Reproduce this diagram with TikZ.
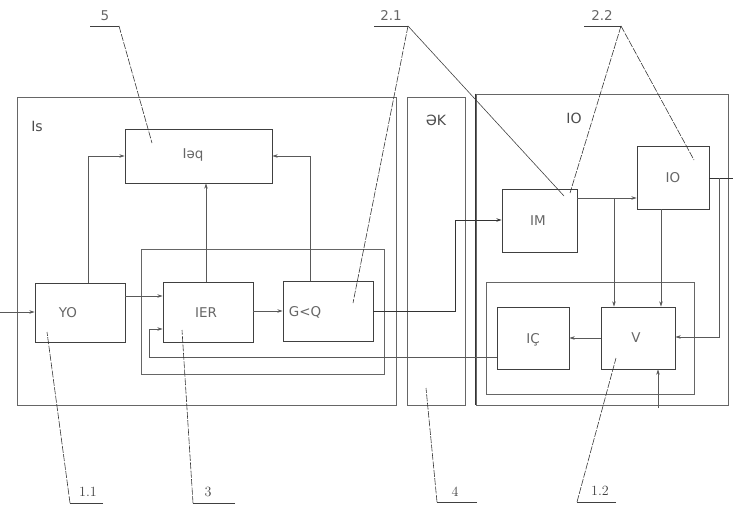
\documentclass[tikz,border=0pt]{standalone}
\usepackage{fontspec}
\setsansfont{DejaVu Sans}
\usetikzlibrary{arrows.meta,fit}

\tikzset{
  wire/.style={draw=black!65, line width=0.6pt},
  arr/.style={wire, -{Stealth[length=4.5pt,width=3pt]}},
  frame/.style={draw=black!60, line width=0.6pt, inner sep=0pt, fit={#1}},
  blk/.style={draw=black!75, line width=0.75pt, inner sep=0pt, fit={#1}},
  txt/.style={text=black!60, font=\sffamily\fontsize{11.5}{13}\selectfont, inner sep=0pt},
  ttl/.style={text=black!70, font=\sffamily\fontsize{12}{14}\selectfont, inner sep=0pt},
  num/.style={text=black!75, font=\fontsize{12}{14}\selectfont, inner sep=0pt},
  leader/.style={draw=black!80, line width=0.5pt, dash pattern=on 6pt off 1.2pt},
  leaderthin/.style={draw=black!75, line width=0.5pt}
}

\begin{document}
\begin{tikzpicture}[x=0.03cm, y=-0.03cm]
  \useasboundingbox (0,0) rectangle (733,506);

  % Frames
  \node[frame={(17,97) (396,405)}] (fIs) {};
  \node[frame={(407,97) (465,405)}] (fEK) {};
  \node[frame={(476,94) (728,405)}] (fIO) {};
  \draw[line width=0.9pt, draw=black!80] (fIO.north west) -- (fIO.south west);
  \node[frame={(141,249) (384,374)}] (g3) {};
  \node[frame={(486,282) (694,394)}] (g12) {};

  % Blocks
  \node[blk={(125,129) (272,183)}] (iaq) {};
  \node[blk={(35,283) (125,342)}] (yo) {};
  \node[blk={(163,282) (253,342)}] (ier) {};
  \node[blk={(283,281) (373,341)}] (gkq) {};
  \node[blk={(502,189) (577,252)}] (im) {};
  \node[blk={(637,146) (709,209)}] (io) {};
  \node[blk={(497,307) (569,369)}] (ic) {};
  \node[blk={(601,307) (675,369)}] (v) {};

  % Texts
  \node[ttl] (tIs) at (37,126) {Is};
  \node[ttl] (tEK) at (436,120) {ӘK};
  \node[ttl] (tIO) at (574,118) {IO};
  \node[txt] (tiaq) at (193,155) {Iәq};
  \node[txt] (tyo) at (68,313) {YO};
  \node[txt] (tier) at (206,313) {IER};
  \node[txt] (tgkq) at (305,312) {G<Q};
  \node[txt] (tim) at (538,221) {IM};
  \node[txt] (tio) at (673,178) {IO};
  \node[txt] (tic) at (533,340) {IÇ};
  \node[txt] (tv) at (636,338) {V};

  % Connectors
  \coordinate (in) at (0,312);
  \coordinate (out) at (733,178);
  \draw[arr] (in) -- (yo.west |- in);
  \draw[arr] (yo.east |- 0,296) -- (ier.west |- 0,296);
  \draw[arr] (yo.north -| 88,0) |- (iaq.west |- 0,156);
  \draw[arr] (ier.north -| 206,0) -- (iaq.south -| 206,0);
  \draw[arr] (gkq.north -| 310,0) |- (iaq.east |- 0,156);
  \draw[arr] (ier.east |- 0,311) -- (gkq.west |- 0,311);
  \draw[arr, line width=0.8pt, draw=black!80] (gkq.east |- 0,311) -| (455,220) -- (im.west |- 0,220);
  \draw[arr] (im.east |- 0,198) -- (io.west |- 0,198);
  \draw[arr] (614,198) -- (v.north -| 614,0);
  \draw[arr] (io.south -| 661,0) -- (v.north -| 661,0);
  \draw[wire, line width=0.8pt, draw=black!80] (io.east |- out) -- (out);
  \draw[arr] (719,178) |- (v.east |- 0,337);
  \draw[arr] (v.west |- 0,338) -- (ic.east |- 0,338);
  \draw[arr] (ic.west |- 0,357) -| (149,329) -- (ier.west |- 0,329);
  \draw[arr] (658,408) -- (v.south -| 658,0);

  % Leaders
  \draw[leaderthin] (90,26) -- (119,26);
  \draw[leader] (119,26) -- (152,143);
  \draw[leaderthin] (374,26) -- (408,26);
  \draw[leader] (408,26) -- (353,303);
  \draw[leaderthin] (408,26) -- (564,196);
  \draw[leaderthin] (584,26) -- (621,26);
  \draw[leader] (621,26) -- (570,193);
  \draw[leader] (621,26) -- (694,160);
  \draw[leaderthin] (103,503) -- (70,503);
  \draw[leader] (70,503) -- (47,332);
  \draw[leaderthin] (235,503) -- (193,503);
  \draw[leader] (193,503) -- (182,330);
  \draw[leaderthin] (477,502) -- (437,502);
  \draw[leader] (437,502) -- (426,388);
  \draw[leaderthin] (616,502) -- (577,502);
  \draw[leader] (577,502) -- (616,358);

  % Labels
  \node[txt] (n5) at (105,16) {5};
  \node[txt] (n21) at (391,16) {2.1};
  \node[txt] (n22) at (602,16) {2.2};
  \node[num] (n11) at (88,492) {1.1};
  \node[num] (n3) at (208,492) {3};
  \node[num] (n4) at (455,492) {4};
  \node[num] (n12) at (600,491) {1.2};
\end{tikzpicture}
\end{document}
